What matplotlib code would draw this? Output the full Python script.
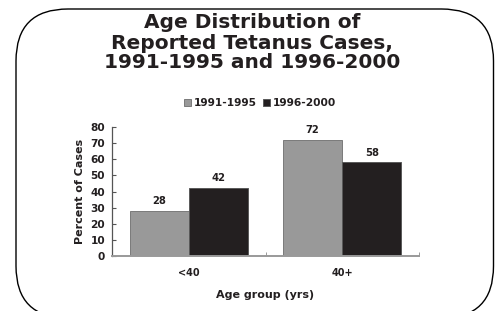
import matplotlib
matplotlib.use("Agg")
import matplotlib.pyplot as plt
import matplotlib.patches as patches
import numpy as np

# data
groups = ["<40", "40+"]
series_names = ["1991-1995", "1996-2000"]
pct_9195 = [28, 72]
pct_9600 = [42, 58]
y_ticks = [0, 10, 20, 30, 40, 50, 60, 70, 80]

txt_col = "#231f20"
gray = "#999999"
black = "#231f20"
spine_col = "#8a8a8a"

plt.rcParams["font.family"] = "DejaVu Sans"
plt.rcParams["font.weight"] = "bold"

fig = plt.figure(figsize=(4.95, 3.11), dpi=100)

# background frame in pixel units
bg = fig.add_axes([0, 0, 1, 1], zorder=0)
bg.set_xlim(0, 495)
bg.set_ylim(311, 0)
bg.axis("off")
frame = patches.FancyBboxPatch((16, 9), 493.5 - 16, 318 - 9,
                               boxstyle="round,pad=0,rounding_size=52",
                               facecolor="white", edgecolor="black", lw=1.0)
bg.add_patch(frame)

# title, one line at a time (baselines in pixels)
title_lines = ["Age Distribution of", "Reported Tetanus Cases,", "1991-1995 and 1996-2000"]
for line, yb in zip(title_lines, [28, 49, 68]):
    bg.text(252, yb, line, ha="center", va="baseline", fontsize=14.5,
            fontweight="bold", color=txt_col)

# chart axes
ax = fig.add_axes([112 / 495, 1 - 256 / 311, (419 - 112) / 495, (256 - 127) / 311], zorder=1)
ax.patch.set_alpha(0)
x = np.arange(len(groups))
w = 0.385
b1 = ax.bar(x - w / 2, pct_9195, width=w, color=gray, edgecolor="#7a7a7a", lw=0.7,
            label=series_names[0])
b2 = ax.bar(x + w / 2, pct_9600, width=w, color=black, edgecolor="#5a5a5a", lw=0.7,
            label=series_names[1])

for bars in (b1, b2):
    for r in bars:
        ax.annotate(f"{r.get_height():.0f}", (r.get_x() + r.get_width() / 2, r.get_height()),
                    xytext=(0, 3.5), textcoords="offset points", ha="center", va="bottom",
                    fontsize=7.2, fontweight="bold", color=txt_col)

ax.set_xlim(-0.5, 1.5)
ax.set_ylim(0, 80)
ax.set_yticks(y_ticks)
ax.set_xticks(x)
ax.set_xticklabels(groups)
ax.set_xticks([-0.5, 0.5, 1.5], minor=True)

for s in ["top", "right"]:
    ax.spines[s].set_visible(False)
ax.spines["left"].set_color("#555555")
ax.spines["left"].set_linewidth(0.9)
ax.spines["bottom"].set_color("#999999")
ax.spines["bottom"].set_linewidth(1.4)

ax.tick_params(axis="y", direction="in", length=3, color="#555555", pad=5,
               labelsize=7.6, labelcolor=txt_col)
ax.tick_params(axis="x", which="major", length=0, pad=9, labelsize=7.0, labelcolor=txt_col)
ax.tick_params(axis="x", which="minor", direction="in", length=3, color=spine_col)
for lab in ax.get_xticklabels() + ax.get_yticklabels():
    lab.set_fontweight("bold")

ax.set_ylabel("Percent of Cases", fontsize=8, fontweight="bold", color=txt_col, labelpad=4)
ax.set_xlabel("Age group (yrs)", fontsize=8, fontweight="bold", color=txt_col, labelpad=8)

leg = fig.legend(handles=[b1, b2], labels=series_names, loc="center",
                 bbox_to_anchor=(260 / 495, 1 - 103 / 311), ncol=2, frameon=False,
                 fontsize=7.7, handlelength=0.7, handleheight=0.7, handletextpad=0.3,
                 columnspacing=0.5, borderpad=0, borderaxespad=0)
for t in leg.get_texts():
    t.set_color(txt_col)
    t.set_fontweight("bold")

fig.savefig("out.png", dpi=100)
